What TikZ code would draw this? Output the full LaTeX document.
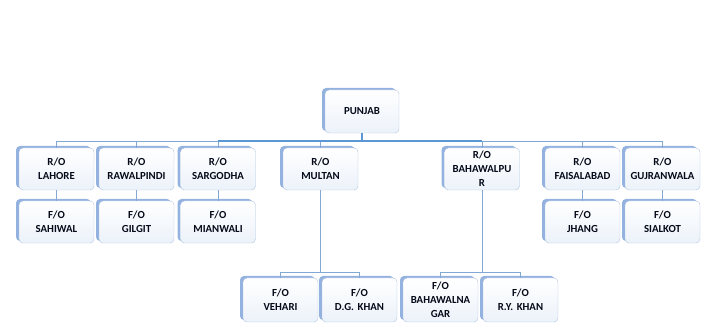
\documentclass[tikz,border=0pt]{standalone}
\usepackage{fontspec}
\setmainfont{Carlito}
\usepackage{xcolor}
\usepackage{tikz}
\usetikzlibrary{positioning,shadows}
\definecolor{OrgBlue}{RGB}{91,151,213}
\definecolor{WireBlue}{RGB}{132,168,212}
\definecolor{EdgeBlue}{RGB}{176,196,224}
\definecolor{ShadeBlue}{RGB}{128,164,218}
\definecolor{PaleBlue}{RGB}{236,242,250}
\definecolor{InkNavy}{RGB}{5,10,25}

\begin{document}
\begin{tikzpicture}[
  x=1pt, y=-1pt,
  box/.style={draw=EdgeBlue, rounded corners=4pt, thin, top color=white, bottom color=PaleBlue,
    minimum width=75pt, minimum height=42pt, inner sep=1pt, align=center, text width=72pt,
    font=\bfseries\fontsize{10.8}{14}\selectfont, text=InkNavy,
    drop shadow={shadow xshift=-3pt, shadow yshift=2pt, fill=ShadeBlue, opacity=0.85}},
  line/.style={draw=WireBlue, line width=0.8pt},
  busline/.style={draw=OrgBlue, line width=2.6pt}
]
\useasboundingbox (0,0) rectangle (720,336);

% head
\node[box, minimum width=72pt, minimum height=43pt] (punjab) at (362,111.5) {PUNJAB};

% regional offices
\node[box] (lahore) at (56.5,169) {R/O\\LAHORE};
\node[box] (rawalpindi) at (136.5,169) {R/O\\RAWALPINDI};
\node[box] (sargodha) at (218,169) {R/O\\SARGODHA};
\node[box] (multan) at (320.5,169) {R/O\\MULTAN};
\node[box] (bahawalpur) at (482,169) {R/O\\BAHAWALPU\\R};
\node[box] (faisalabad) at (582.5,169) {R/O\\FAISALABAD};
\node[box] (gujranwala) at (662.5,169) {R/O\\GUJRANWALA};

% field offices
\node[box] (sahiwal) at (56.5,222) {F/O\\SAHIWAL};
\node[box] (gilgit) at (136.5,222) {F/O\\GILGIT};
\node[box] (mianwali) at (218,222) {F/O\\MIANWALI};
\node[box] (jhang) at (582.5,222) {F/O\\JHANG};
\node[box] (sialkot) at (662.5,222) {F/O\\SIALKOT};

\node[box, minimum height=44pt] (vehari) at (280.5,300) {F/O\\VEHARI};
\node[box, minimum height=44pt] (dgkhan) at (359.5,300) {F/O\\D.G. KHAN};
\node[box, minimum height=44pt] (bahawalnagar) at (440.5,300) {F/O\\BAHAWALNA\\GAR};
\node[box, minimum height=44pt] (rykhan) at (520.5,300) {F/O\\R.Y. KHAN};

\coordinate (bus) at (0,141);
\coordinate (lowbus) at (0,272);

% top level
\foreach \ro in {lahore,rawalpindi,sargodha,multan,bahawalpur,faisalabad,gujranwala}
  \draw[line] (punjab.south) -- (punjab.south |- bus) -| (\ro.north);
\draw[busline] (sargodha.north |- bus) -- (bahawalpur.north |- bus);
\draw[busline] (punjab.south) -- (punjab.south |- bus);

% R/O to F/O
\draw[line] (lahore) -- (sahiwal);
\draw[line] (rawalpindi) -- (gilgit);
\draw[line] (sargodha) -- (mianwali);
\draw[line] (faisalabad) -- (jhang);
\draw[line] (gujranwala) -- (sialkot);

\draw[line] (multan.south) -- (multan.south |- lowbus) -| (vehari.north);
\draw[line] (multan.south) -- (multan.south |- lowbus) -| (dgkhan.north);
\draw[line] (bahawalpur.south) -- (bahawalpur.south |- lowbus) -| (bahawalnagar.north);
\draw[line] (bahawalpur.south) -- (bahawalpur.south |- lowbus) -| (rykhan.north);
\end{tikzpicture}
\end{document}
